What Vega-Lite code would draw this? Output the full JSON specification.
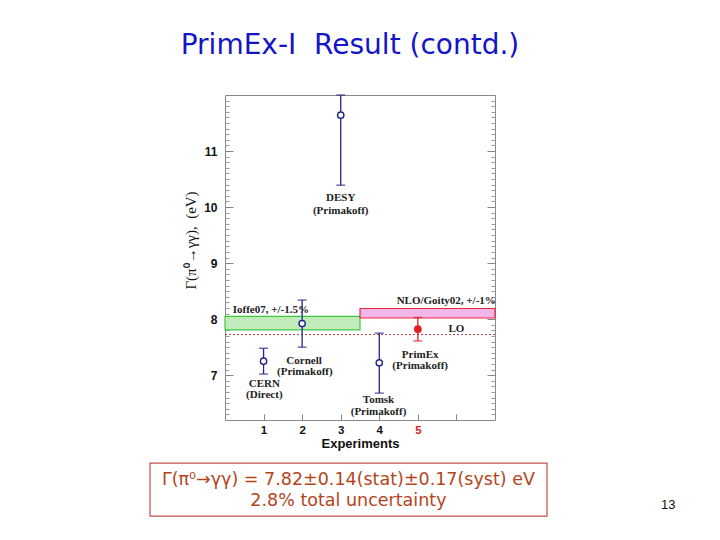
{
  "$schema": "https://vega.github.io/schema/vega-lite/v6.json",
  "width": 270,
  "height": 325,
  "autosize": {"type": "none"},
  "padding": {"left": 225, "top": 95, "right": 225, "bottom": 120},
  "background": "white",
  "title": {
    "text": "PrimEx-I\u00a0\u00a0Result (contd.)",
    "font": "DejaVu Sans",
    "fontSize": 28,
    "fontWeight": "normal",
    "color": "#1414c8",
    "anchor": "middle",
    "dx": -10,
    "offset": 34
  },
  "config": {
    "view": {"stroke": "#888888", "strokeWidth": 1},
    "text": {"font": "Liberation Serif"}
  },
  "datasets": {
    "points": [
      {"experiment": "CERN", "x": 1, "value": 7.25, "low": 7.02, "high": 7.48, "group": "previous"},
      {"experiment": "Cornell", "x": 2, "value": 7.92, "low": 7.5, "high": 8.34, "group": "previous"},
      {"experiment": "DESY", "x": 3, "value": 11.64, "low": 10.39, "high": 12.0, "group": "previous"},
      {"experiment": "Tomsk", "x": 4, "value": 7.22, "low": 6.68, "high": 7.75, "group": "previous"},
      {"experiment": "PrimEx", "x": 5, "value": 7.82, "low": 7.61, "high": 8.03, "group": "PrimEx"}
    ],
    "bands": [
      {"band": "Ioffe07", "x": 0, "x2": 3.5, "low": 7.81, "high": 8.05},
      {"band": "NLO", "x": 3.5, "x2": 7, "low": 8.02, "high": 8.19}
    ],
    "lo": [{"name": "LO", "x": 0, "x2": 7, "value": 7.725}],
    "labels": [
      {"text": "DESY", "x": 3.0, "y": 10.16},
      {"text": "(Primakoff)", "x": 3.0, "y": 9.93},
      {"text": "Cornell", "x": 2.05, "y": 7.26},
      {"text": "(Primakoff)", "x": 2.07, "y": 7.06},
      {"text": "CERN", "x": 1.02, "y": 6.85},
      {"text": "(Direct)", "x": 1.02, "y": 6.65},
      {"text": "Tomsk", "x": 3.98, "y": 6.56},
      {"text": "(Primakoff)", "x": 3.98, "y": 6.35},
      {"text": "PrimEx", "x": 5.06, "y": 7.36},
      {"text": "(Primakoff)", "x": 5.06, "y": 7.16},
      {"text": "LO", "x": 6.0, "y": 7.83}
    ],
    "bandlabels": [
      {"text": "Ioffe07, +/-1.5%", "x": 0.2, "y": 8.17},
      {"text": "NLO/Goity02, +/-1%", "x": 4.45, "y": 8.33}
    ],
    "box": [{"x": -1.944, "x2": 8.348, "y": 5.432, "y2": 4.486}],
    "boxtext": [
      {"text": "Γ(π⁰→γγ) = 7.82±0.14(stat)±0.17(syst) eV", "x": 3.2, "y": 5.13},
      {"text": "2.8% total uncertainty", "x": 3.2, "y": 4.755}
    ],
    "page": [{"text": "13", "x": 11.49, "y": 4.68}]
  },
  "encoding": {
    "x": {
      "field": "x", "type": "quantitative",
      "scale": {"domain": [0, 7], "nice": false, "zero": false},
      "axis": {
        "title": "Experiments",
        "titleFont": "Liberation Sans",
        "titleFontSize": 13,
        "titleFontWeight": "bold",
        "titleColor": "#111111",
        "titlePadding": 2,
        "values": [1, 2, 3, 4, 5, 6],
        "labelExpr": "datum.value <= 5 ? format(datum.value, 'd') : ''",
        "labelFont": "Liberation Sans",
        "labelFontSize": 11.5,
        "labelFontWeight": "bold",
        "labelColor": {"condition": {"test": "datum.value == 5", "value": "#e02020"}, "value": "#111111"},
        "labelPadding": 10,
        "domain": false,
        "grid": false,
        "tickSize": -6,
        "tickColor": "#888888"
      }
    }
  },
  "resolve": {"axis": {"y": "independent"}},
  "layer": [
    {
      "data": {"name": "bands"},
      "transform": [{"filter": "datum.band == 'Ioffe07'"}],
      "mark": {"type": "rect", "fill": "#c2ebbb", "stroke": "#3ec83e", "strokeWidth": 1.2},
      "encoding": {
        "x2": {"field": "x2"},
        "y": {
          "field": "low", "type": "quantitative",
          "scale": {"domain": [6.2, 12], "nice": false, "zero": false},
          "axis": {
            "orient": "left",
            "title": "Γ(π⁰→γγ),\u00a0\u00a0(eV)",
            "titleFont": "Liberation Serif",
            "titleFontSize": 15,
            "titleFontWeight": "normal",
            "titleColor": "#111111",
            "titleX": -35,
            "titleY": 145,
            "titleAlign": "center",
            "titleBaseline": "middle",
            "titleAngle": -90,
            "values": [7, 8, 9, 10, 11],
            "labelFont": "Liberation Sans",
            "labelFontSize": 12,
            "labelFontWeight": "bold",
            "labelColor": "#111111",
            "labelPadding": 16,
            "domain": false,
            "grid": false,
            "tickColor": "#888888",
            "tickSize": -8
          }
        },
        "y2": {"field": "high"}
      }
    },
    {
      "data": {"name": "bands"},
      "transform": [{"filter": "datum.band == 'NLO'"}],
      "mark": {"type": "rect", "fill": "#f2b6e8", "stroke": "#e8283c", "strokeWidth": 1.2},
      "encoding": {
        "x2": {"field": "x2"},
        "y": {
          "field": "low", "type": "quantitative",
          "axis": {
            "orient": "left",
            "title": null,
            "labels": false,
            "domain": false,
            "grid": false,
            "values": [6.3, 6.4, 6.5, 6.6, 6.7, 6.8, 6.9, 7.1, 7.2, 7.3, 7.4, 7.5, 7.6, 7.7, 7.8, 7.9, 8.1, 8.2, 8.3, 8.4, 8.5, 8.6, 8.7, 8.8, 8.9, 9.1, 9.2, 9.3, 9.4, 9.5, 9.6, 9.7, 9.8, 9.9, 10.1, 10.2, 10.3, 10.4, 10.5, 10.6, 10.7, 10.8, 10.9, 11.1, 11.2, 11.3, 11.4, 11.5, 11.6, 11.7, 11.8, 11.9],
            "tickColor": "#999999",
            "tickSize": -4
          }
        },
        "y2": {"field": "high"}
      }
    },
    {
      "data": {"name": "lo"},
      "mark": {"type": "rule", "strokeDash": [2, 2], "color": "#b04040", "strokeWidth": 1},
      "encoding": {
        "x2": {"field": "x2"},
        "y": {
          "field": "value", "type": "quantitative",
          "axis": {
            "orient": "right",
            "title": null,
            "labels": false,
            "domain": false,
            "grid": false,
            "values": [7, 8, 9, 10, 11],
            "tickColor": "#888888",
            "tickSize": -8
          }
        }
      }
    },
    {
      "data": {"name": "points"},
      "mark": {"type": "rule", "strokeWidth": 1.3},
      "encoding": {
        "y": {
          "field": "low", "type": "quantitative",
          "axis": {
            "orient": "right",
            "title": null,
            "labels": false,
            "domain": false,
            "grid": false,
            "values": [6.3, 6.4, 6.5, 6.6, 6.7, 6.8, 6.9, 7.1, 7.2, 7.3, 7.4, 7.5, 7.6, 7.7, 7.8, 7.9, 8.1, 8.2, 8.3, 8.4, 8.5, 8.6, 8.7, 8.8, 8.9, 9.1, 9.2, 9.3, 9.4, 9.5, 9.6, 9.7, 9.8, 9.9, 10.1, 10.2, 10.3, 10.4, 10.5, 10.6, 10.7, 10.8, 10.9, 11.1, 11.2, 11.3, 11.4, 11.5, 11.6, 11.7, 11.8, 11.9],
            "tickColor": "#999999",
            "tickSize": -4
          }
        },
        "y2": {"field": "high"},
        "color": {"field": "group", "type": "nominal", "scale": {"domain": ["previous", "PrimEx"], "range": ["#23238c", "#e02020"]}, "legend": null}
      }
    },
    {
      "data": {"name": "points"},
      "mark": {"type": "tick", "orient": "horizontal", "size": 9, "thickness": 1.4},
      "encoding": {
        "y": {"field": "low", "type": "quantitative", "axis": null},
        "color": {"field": "group", "type": "nominal", "legend": null}
      }
    },
    {
      "data": {"name": "points"},
      "mark": {"type": "tick", "orient": "horizontal", "size": 9, "thickness": 1.4},
      "encoding": {
        "y": {"field": "high", "type": "quantitative", "axis": null},
        "color": {"field": "group", "type": "nominal", "legend": null}
      }
    },
    {
      "data": {"name": "points"},
      "transform": [{"filter": "datum.group == 'previous'"}],
      "mark": {"type": "point", "shape": "circle", "size": 40, "strokeWidth": 1.4, "opacity": 1, "fill": "white", "stroke": "#23238c", "filled": false},
      "encoding": {
        "y": {"field": "value", "type": "quantitative", "axis": null}
      }
    },
    {
      "data": {"name": "points"},
      "transform": [{"filter": "datum.group == 'PrimEx'"}],
      "mark": {"type": "point", "shape": "circle", "size": 40, "strokeWidth": 1.4, "opacity": 1, "fill": "#e02020", "stroke": "#e02020", "filled": true},
      "encoding": {
        "y": {"field": "value", "type": "quantitative", "axis": null}
      }
    },
    {
      "data": {"name": "labels"},
      "mark": {"type": "text", "font": "Liberation Serif", "fontSize": 11, "fontWeight": "bold", "color": "#222222", "align": "center", "baseline": "middle"},
      "encoding": {
        "y": {"field": "y", "type": "quantitative", "axis": null},
        "text": {"field": "text"}
      }
    },
    {
      "data": {"name": "bandlabels"},
      "mark": {"type": "text", "font": "Liberation Serif", "fontSize": 11, "fontWeight": "bold", "color": "#222222", "align": "left", "baseline": "middle"},
      "encoding": {
        "y": {"field": "y", "type": "quantitative", "axis": null},
        "text": {"field": "text"}
      }
    },
    {
      "data": {"name": "box"},
      "mark": {"type": "rect", "fill": "white", "stroke": "#c0504d", "strokeWidth": 1.2},
      "encoding": {
        "x2": {"field": "x2"},
        "y": {"field": "y", "type": "quantitative", "axis": null},
        "y2": {"field": "y2"}
      }
    },
    {
      "data": {"name": "boxtext"},
      "mark": {"type": "text", "font": "DejaVu Sans", "fontSize": 17.5, "color": "#b4441c", "align": "center", "baseline": "middle"},
      "encoding": {
        "y": {"field": "y", "type": "quantitative", "axis": null},
        "text": {"field": "text"}
      }
    },
    {
      "data": {"name": "page"},
      "mark": {"type": "text", "font": "Liberation Sans", "fontSize": 13, "color": "#111111", "align": "center", "baseline": "middle"},
      "encoding": {
        "y": {"field": "y", "type": "quantitative", "axis": null},
        "text": {"field": "text"}
      }
    }
  ]
}
